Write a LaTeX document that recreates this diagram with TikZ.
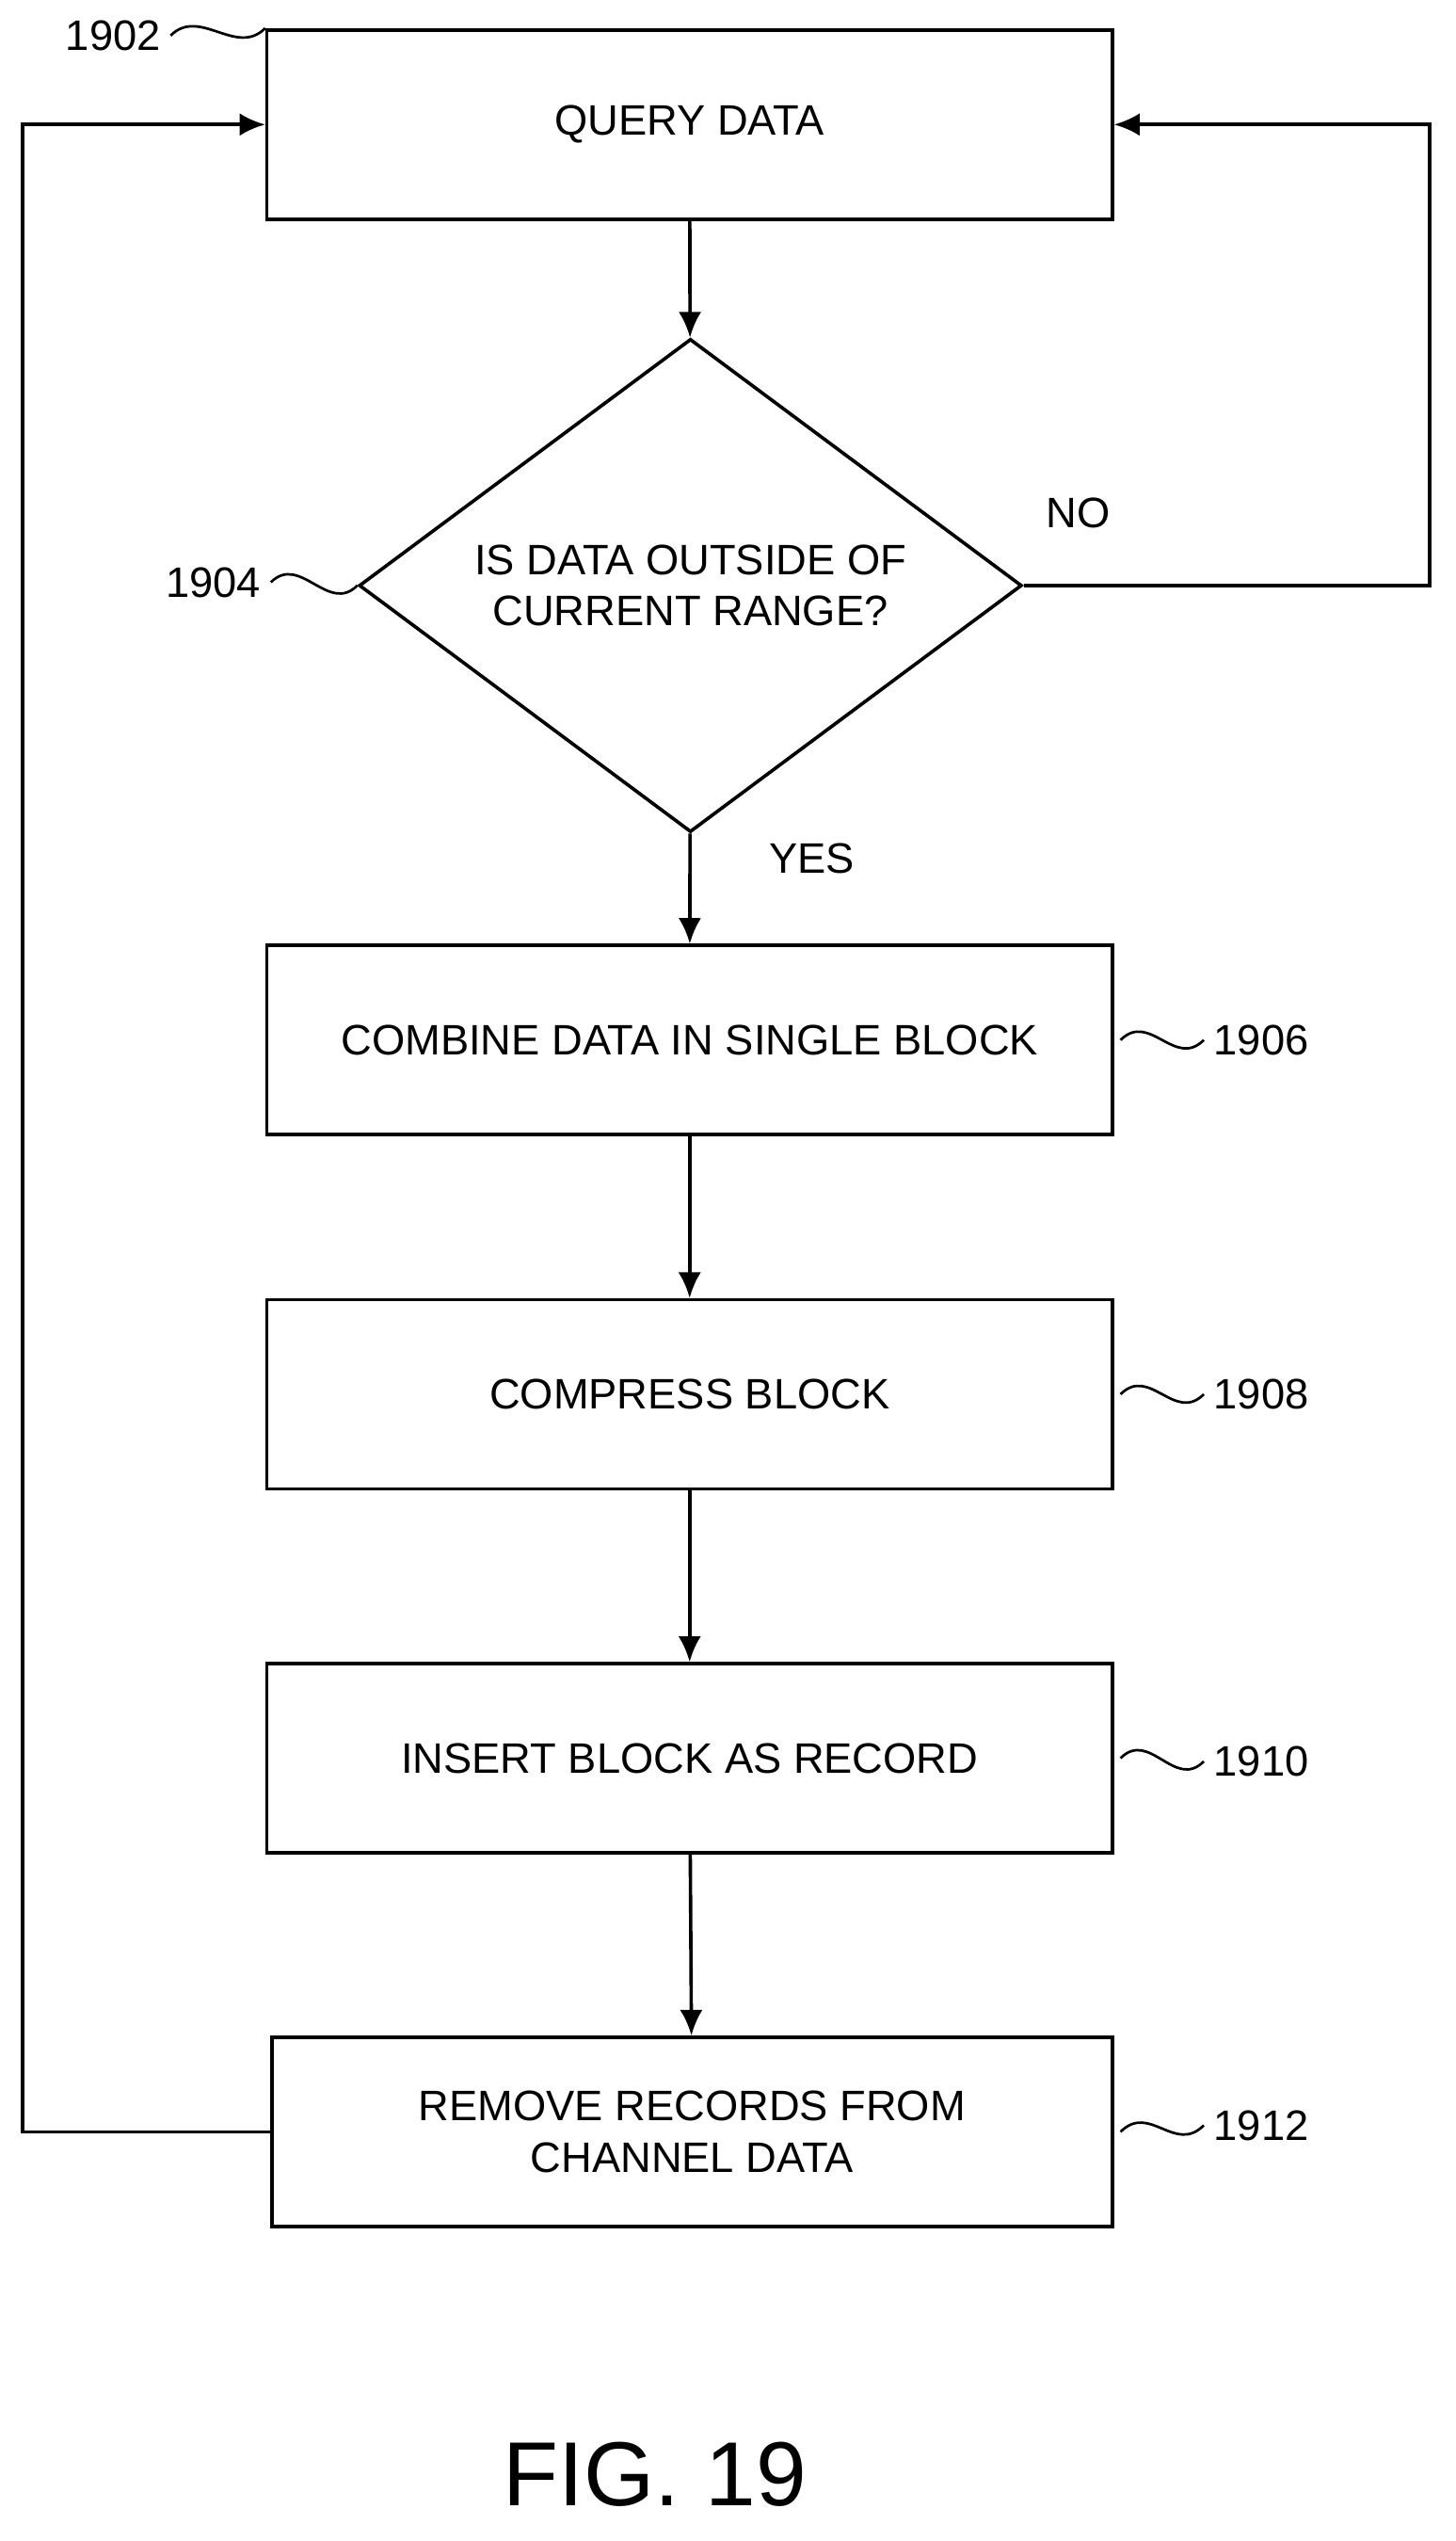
\documentclass[tikz,border=0pt]{standalone}
\usepackage{fontspec}
\setmainfont{Liberation Sans}
\usetikzlibrary{shapes.geometric,arrows.meta}
\tikzset{>=latex}
\tikzset{box/.style={draw,line width=1.2pt,minimum width=10.46cm,minimum height=2.34cm,font=\fontsize{15}{18}\selectfont,align=center},
 flow/.style={->,line width=1.2pt,>={Latex[length=9pt,width=8pt]}},
 squig/.style={line width=0.9pt},
 lbl/.style={font=\fontsize{15}{18}\selectfont}}
\begin{document}
\begin{tikzpicture}[x=0.02cm,y=-0.02cm]
\useasboundingbox (0,0) rectangle (900,1571);
\node[box] (query) at (426.5,77) {QUERY DATA};
\node[draw,line width=1.2pt,diamond,inner sep=0pt,minimum width=8.2cm,minimum height=6.1cm,shape aspect=1.344,font=\fontsize{15}{18}\selectfont,align=center] (test) at (427,362) {IS DATA OUTSIDE OF\\CURRENT RANGE?};
\node[box] (combine) at (426.5,643) {COMBINE DATA IN SINGLE BLOCK};
\node[box] (compress) at (426.5,862) {COMPRESS BLOCK};
\node[box] (insert) at (426.5,1087) {INSERT BLOCK AS RECORD};
\node[box,minimum width=10.4cm] (remove) at (428,1318) {REMOVE RECORDS FROM\\CHANNEL DATA};
% flow
\draw[flow] (query) -- (test);
\draw[flow] (test) -- (combine);
\draw[flow] (combine) -- (compress);
\draw[flow] (compress) -- (insert);
\draw[flow] (insert) -- (remove);
\coordinate (nr) at (884,362);
\coordinate (nt) at (884,77);
\draw[flow] (test.east) -- (nr) -- (nt) -- (query.east);
\coordinate (lb) at (14,1318);
\coordinate (lt) at (14,77);
\draw[flow] (remove.west) -- (lb) -- (lt) -- (query.west);
\node[lbl] (no) at (667,317) {NO};
\node[lbl] (yes) at (502,531) {YES};
% reference numerals
\node[lbl] (n1902) at (70,22) {1902};
\draw[squig] (n1902.east) .. controls +(18,-18) and +(-18,18) .. (query.north west);
\node[lbl] (n1904) at (132,360) {1904};
\draw[squig] (n1904.east) .. controls +(18,-18) and +(-18,18) .. (test.west);
\node[lbl] (n1906) at (780,643) {1906};
\draw[squig] (combine.east)+(4,0) .. controls +(18,-18) and +(-18,18) .. (n1906.west);
\node[lbl] (n1908) at (780,862) {1908};
\draw[squig] (compress.east)+(4,0) .. controls +(18,-18) and +(-18,18) .. (n1908.west);
\node[lbl] (n1910) at (780,1089) {1910};
\draw[squig] (insert.east)+(4,0) .. controls +(18,-18) and +(-18,18) .. (n1910.west);
\node[lbl] (n1912) at (780,1314) {1912};
\draw[squig] (remove.east)+(4,0) .. controls +(18,-18) and +(-18,18) .. (n1912.west);
\node[font=\fontsize{32}{38}\selectfont] (fig) at (405,1530) {FIG. 19};
\end{tikzpicture}
\end{document}
